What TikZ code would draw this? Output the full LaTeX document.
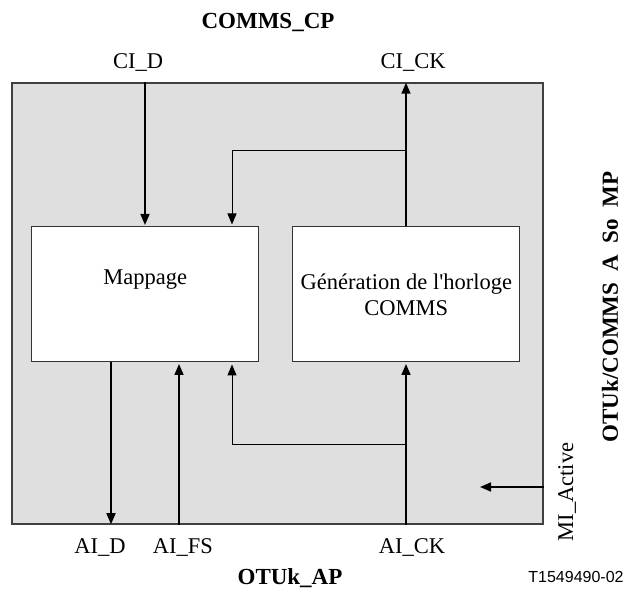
\documentclass[tikz,border=0pt]{standalone}
\usepackage{fontspec}
\setmainfont{Liberation Serif}
\newfontfamily\rawserif{Liberation Serif}
\newfontfamily\sansf{Liberation Sans}
\usetikzlibrary{arrows.meta}
\begin{document}
\begin{tikzpicture}[x=1pt,y=1pt,
  every node/.style={font=\fontsize{22.5}{26}\selectfont},
  frame/.style={draw=black!75, line width=1.5pt, fill=gray!25, inner sep=0},
  block/.style={draw=black!80, line width=1pt, fill=white, align=center, inner sep=0},
  sig/.style={line width=1.6pt, -{Triangle[length=11pt,width=9pt]}, shorten >=1.5pt},
  fb/.style={line width=1pt, -{Triangle[length=11pt,width=9pt]}, shorten >=2pt},
  lbl/.style={inner sep=0},
  title/.style={font=\fontsize{23}{26}\selectfont\bfseries, inner sep=0}]
\useasboundingbox (0,0) rectangle (628,593);
\node[frame, minimum width=531, minimum height=441] (frame) at (277.5,289.5) {};
\node[block, minimum width=227.3, minimum height=135] (mapp) at (145.3,298.5) {Mappage\\\strut};
\node[block, minimum width=227.3, minimum height=135] (gen) at (406.3,298.5) {G\'en\'eration de l{\rawserif\symbol{39}}horloge\\COMMS};
\coordinate (xd) at (145,0);
\coordinate (xfb) at (232,0);
\coordinate (xck) at (406,0);
\coordinate (xad) at (111,0);
\coordinate (xfs) at (179,0);
\coordinate (fbt) at (406,442);
\coordinate (fbb) at (406,148);
\coordinate (mi) at (480,106);
\draw[sig] (frame.north -| xd) -- (mapp.north -| xd);
\draw[sig, shorten >=0.5pt] (gen.north -| xck) -- (frame.north -| xck);
\draw[fb] (fbt) -| (mapp.north -| xfb);
\draw[sig, shorten >=0.5pt] (mapp.south -| xad) -- (frame.south -| xad);
\draw[sig] (frame.south -| xfs) -- (mapp.south -| xfs);
\draw[fb] (fbb) -| (mapp.south -| xfb);
\draw[sig] (frame.south -| xck) -- (gen.south -| xck);
\draw[sig, shorten >=0pt] (frame.east |- mi) -- (mi);
\node[title] (top) at (268,571) {COMMS\_CP};
\node[lbl] (cidl) at (138,530) {CI\_D};
\node[lbl] (cickl) at (413,530) {CI\_CK};
\node[lbl] (adl) at (100,45) {AI\_D};
\node[lbl] (afsl) at (183,45) {AI\_FS};
\node[lbl] (ackl) at (412,45) {AI\_CK};
\node[title] (bot) at (290,15) {OTUk\_AP};
\node[lbl, font=\sansf\fontsize{16}{18}\selectfont] (ref) at (576,16) {T1549490-02};
\node[lbl, rotate=90] (mia) at (567,101) {MI\_Active};
\node[title, rotate=90] (side) at (610,286) {OTUk/COMMS\hspace{0.5em}A\hspace{0.5em}So\hspace{0.5em}MP};
\end{tikzpicture}
\end{document}
